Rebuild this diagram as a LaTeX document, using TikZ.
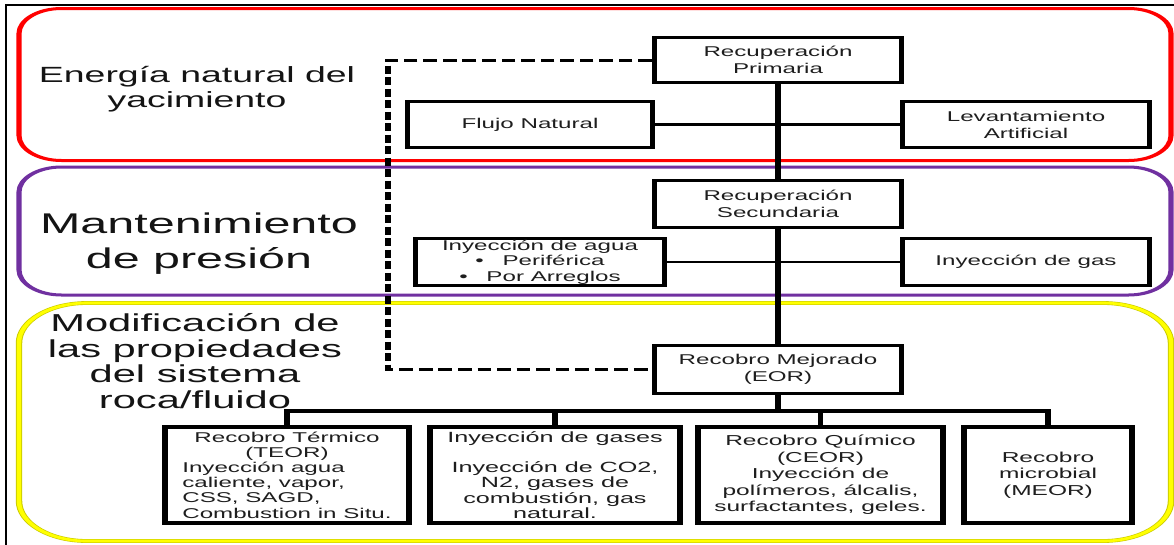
\documentclass[tikz,border=0pt]{standalone}
\usepackage{fontspec}
\setmainfont{Liberation Sans}
\definecolor{zonered}{RGB}{255,0,0}
\definecolor{zonepurple}{RGB}{112,48,160}
\definecolor{zoneyellow}{RGB}{255,255,0}
\definecolor{inkgray}{RGB}{30,30,30}

\tikzset{
  stage/.style={draw=black, line width=3pt, fill=white, inner sep=0pt,
    align=center, text=inkgray, font=\fontsize{14.2}{17}\selectfont},
  method/.style={stage, line width=3.6pt, font=\fontsize{14.2}{15.2}\selectfont},
  link/.style={line width=2.8pt},
  trunk/.style={line width=3.4pt},
  busline/.style={line width=3.2pt},
  feedback/.style={line width=3pt, dash pattern=on 8pt off 3.5pt},
  zonetitle/.style={align=center, inner sep=0pt, text=black!92},
  zoneframe/.style={line width=3pt}
}

\begin{document}
\begin{tikzpicture}[x=1pt,y=-1pt]
\useasboundingbox (0,0) rectangle (1174,544);
\fill[white] (0,0) rectangle (1174,544);

% the whole chart is set in a horizontally widened canvas
\begin{scope}[x=0.588235pt, transform canvas={xscale=1.7}]

  % outer frame
  \draw[line width=1.2pt] (6,550) -- (6,5) -- (1180,5);

  % the three stages of recovery
  \draw[zoneframe, zonered, rounded corners=25pt] (19,8.5) rectangle (1171,160.5);
  \draw[zoneframe, zonepurple, rounded corners=25pt] (19,167) rectangle (1171,295);
  \draw[line width=3.8pt, zoneyellow!80!black, rounded corners=40pt] (19,303) rectangle (1171,541);
  \draw[line width=2.6pt, zoneyellow, rounded corners=40pt] (19,303) rectangle (1171,541);

  % zone titles
  \node[zonetitle, font=\fontsize{22}{25}\selectfont] (t1) at (197,89)
    {Energía natural del\\yacimiento};
  \node[zonetitle, font=\fontsize{28.5}{35}\selectfont] (t2) at (199,244)
    {Mantenimiento\\de presión};
  \node[zonetitle, font=\fontsize{24.5}{25.5}\selectfont] (t3) at (195,361)
    {Modificación de\\las propiedades\\del sistema\\roca/fluido};

  % primary recovery
  \node[stage, minimum width=145.2pt, minimum height=45pt] (prim) at (778,60)
    {Recuperación\\Primaria};
  \node[stage, minimum width=144pt, minimum height=46pt] (flujo) at (530,124.5)
    {Flujo Natural};
  \node[stage, minimum width=145.2pt, minimum height=46pt] (lev) at (1026,124.5)
    {Levantamiento\\Artificial};

  % secondary recovery
  \node[stage, minimum width=145.2pt, minimum height=47pt] (sec) at (778,204)
    {Recuperación\\Secundaria};
  \node[stage, minimum width=146.4pt, minimum height=47pt,
        font=\fontsize{14.2}{15.5}\selectfont] (agua) at (540,262)
    {Inyección de agua\\\textbullet\hspace{11pt}Periférica\\\textbullet\hspace{11pt}Por Arreglos};
  \node[stage, minimum width=145.2pt, minimum height=47pt] (gas) at (1026,262)
    {Inyección de gas};

  % enhanced recovery
  \node[stage, minimum width=145.2pt, minimum height=48pt] (eor) at (778,369.5)
    {Recobro Mejorado\\(EOR)};

  \node[method, minimum width=143.5pt, minimum height=96.4pt] (b1) at (287,475)
    {\raisebox{-2pt}[\height][\depth]{\begin{tabular}{@{}l@{}}
      \multicolumn{1}{@{}c@{}}{Recobro Térmico}\\
      \multicolumn{1}{@{}c@{}}{(TEOR)}\\
      Inyección agua\\
      caliente, vapor,\\
      CSS, SAGD,\\
      Combustion in Situ.
     \end{tabular}}};
  \node[method, minimum width=147pt, minimum height=96.4pt,
        font=\fontsize{14.8}{15.2}\selectfont] (b2) at (555,475)
    {Inyección de gases\\[15.2pt]Inyección de CO2,\\N2, gases de\\combustión, gas\\natural.};
  \node[method, minimum width=144pt, minimum height=96.4pt,
        font=\fontsize{14.4}{16.5}\selectfont] (b3) at (820.5,475)
    {Recobro Químico\\(CEOR)\\Inyección de\\polímeros, álcalis,\\surfactantes, geles.};
  \node[method, minimum width=98.8pt, minimum height=96.4pt,
        font=\fontsize{14.4}{16.5}\selectfont] (b4) at (1048,475)
    {Recobro\\microbial\\(MEOR)};

  % connectors
  \draw[link] (flujo.east) -- (lev.west);
  \draw[link] (agua.east) -- (gas.west);
  \draw[trunk] (prim.south) -- (sec.north);
  \draw[trunk] (sec.south) -- (eor.north);

  \coordinate (dl) at (388,0);
  \draw[feedback] (prim.west) -- (prim.west -| dl) -- (eor.west -| dl) -- (eor.west);

  \coordinate (bus) at (0,411);
  \draw[busline] (eor.south) -- (eor.south |- bus);
  \draw[busline] (b1.north) -- (b1.north |- bus) -- (b4.north |- bus) -- (b4.north);
  \draw[busline] (b2.north) -- (b2.north |- bus);
  \draw[busline] (b3.north) -- (b3.north |- bus);
\end{scope}
\end{tikzpicture}
\end{document}
